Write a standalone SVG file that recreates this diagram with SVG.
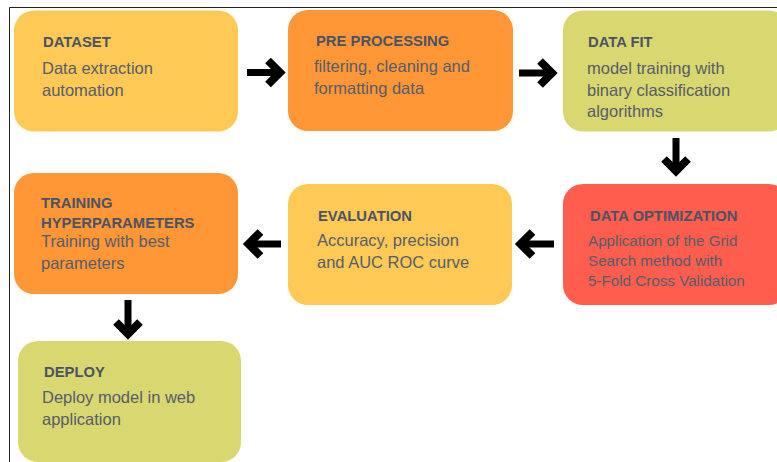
<svg xmlns="http://www.w3.org/2000/svg" width="777" height="462" viewBox="0 0 777 462">
<style>
.box{stroke:none}
.yellow{fill:#FFC955}
.orange{fill:#FF9736}
.olive{fill:#D9D76F}
.red{fill:#FF5E4E}
.title{font-family:"Liberation Sans",Arial,sans-serif;font-weight:bold;font-size:14.8px;fill:#4a5366}
.body{font-family:"Liberation Sans",Arial,sans-serif;font-size:16.5px;fill:#555d6c}
.small{font-size:15.2px}
.shaft{stroke:#000;stroke-width:7;fill:none}
.head{stroke:#000;stroke-width:8;fill:none;stroke-linejoin:miter;stroke-miterlimit:10}
</style>
<rect width="777" height="462" fill="#fff"/>
<path d="M9.5 462 V7.5 H777" fill="none" stroke="#222" stroke-width="1"/>
<g id="connectors">
<g id="a1"><path class="shaft" d="M247 72.5 H278"/><path class="head" d="M268 60.5 L280 72.5 L268 84.5"/></g>
<g id="a2"><path class="shaft" d="M519 73 H550"/><path class="head" d="M540 61 L552 73 L540 85"/></g>
<g id="a3"><path class="shaft" d="M676 138 V170"/><path class="head" d="M664 159 L676 171 L688 159"/></g>
<g id="a4"><path class="shaft" d="M554 244 H522"/><path class="head" d="M532.5 232 L520.5 244 L532.5 256"/></g>
<g id="a5"><path class="shaft" d="M281 244 H250"/><path class="head" d="M260.5 232 L248.5 244 L260.5 256"/></g>
<g id="a6"><path class="shaft" d="M128 300 V333"/><path class="head" d="M116 322 L128 334 L140 322"/></g>
</g>
<g id="dataset">
<rect class="box yellow" x="14" y="10.5" width="224" height="121" rx="20"/>
<text class="title" x="43" y="47">DATASET</text>
<text class="body" x="42" y="74">Data extraction</text>
<text class="body" x="42" y="96">automation</text>
</g>
<g id="preprocessing">
<rect class="box orange" x="288" y="10" width="225" height="121" rx="20"/>
<text class="title" x="316" y="46">PRE PROCESSING</text>
<text class="body" x="314" y="72">filtering, cleaning and</text>
<text class="body" x="314" y="94">formatting data</text>
</g>
<g id="datafit">
<rect class="box olive" x="563" y="10.5" width="226" height="121" rx="20"/>
<text class="title" x="588" y="47">DATA FIT</text>
<text class="body" x="587" y="74">model training with</text>
<text class="body" x="587" y="96">binary classification</text>
<text class="body" x="587" y="117">algorithms</text>
</g>
<g id="training">
<rect class="box orange" x="14" y="173" width="224" height="121" rx="20"/>
<text class="title" x="41" y="208">TRAINING</text>
<text class="title" x="41" y="228">HYPERPARAMETERS</text>
<text class="body" x="41" y="247">Training with best</text>
<text class="body" x="41" y="269">parameters</text>
</g>
<g id="evaluation">
<rect class="box yellow" x="288" y="184" width="224" height="121" rx="20"/>
<text class="title" x="318" y="221">EVALUATION</text>
<text class="body" x="317" y="246">Accuracy, precision</text>
<text class="body" x="317" y="268">and AUC ROC curve</text>
</g>
<g id="optimization">
<rect class="box red" x="563" y="184" width="226" height="121" rx="20"/>
<text class="title" x="590" y="221">DATA OPTIMIZATION</text>
<text class="body small" x="588" y="246">Application of the Grid</text>
<text class="body small" x="588" y="266">Search method with</text>
<text class="body small" x="588" y="286">5-Fold Cross Validation</text>
</g>
<g id="deploy">
<rect class="box olive" x="18" y="341" width="223" height="121" rx="20"/>
<text class="title" x="44" y="377">DEPLOY</text>
<text class="body" x="42" y="403">Deploy model in web</text>
<text class="body" x="42" y="425">application</text>
</g>
</svg>
